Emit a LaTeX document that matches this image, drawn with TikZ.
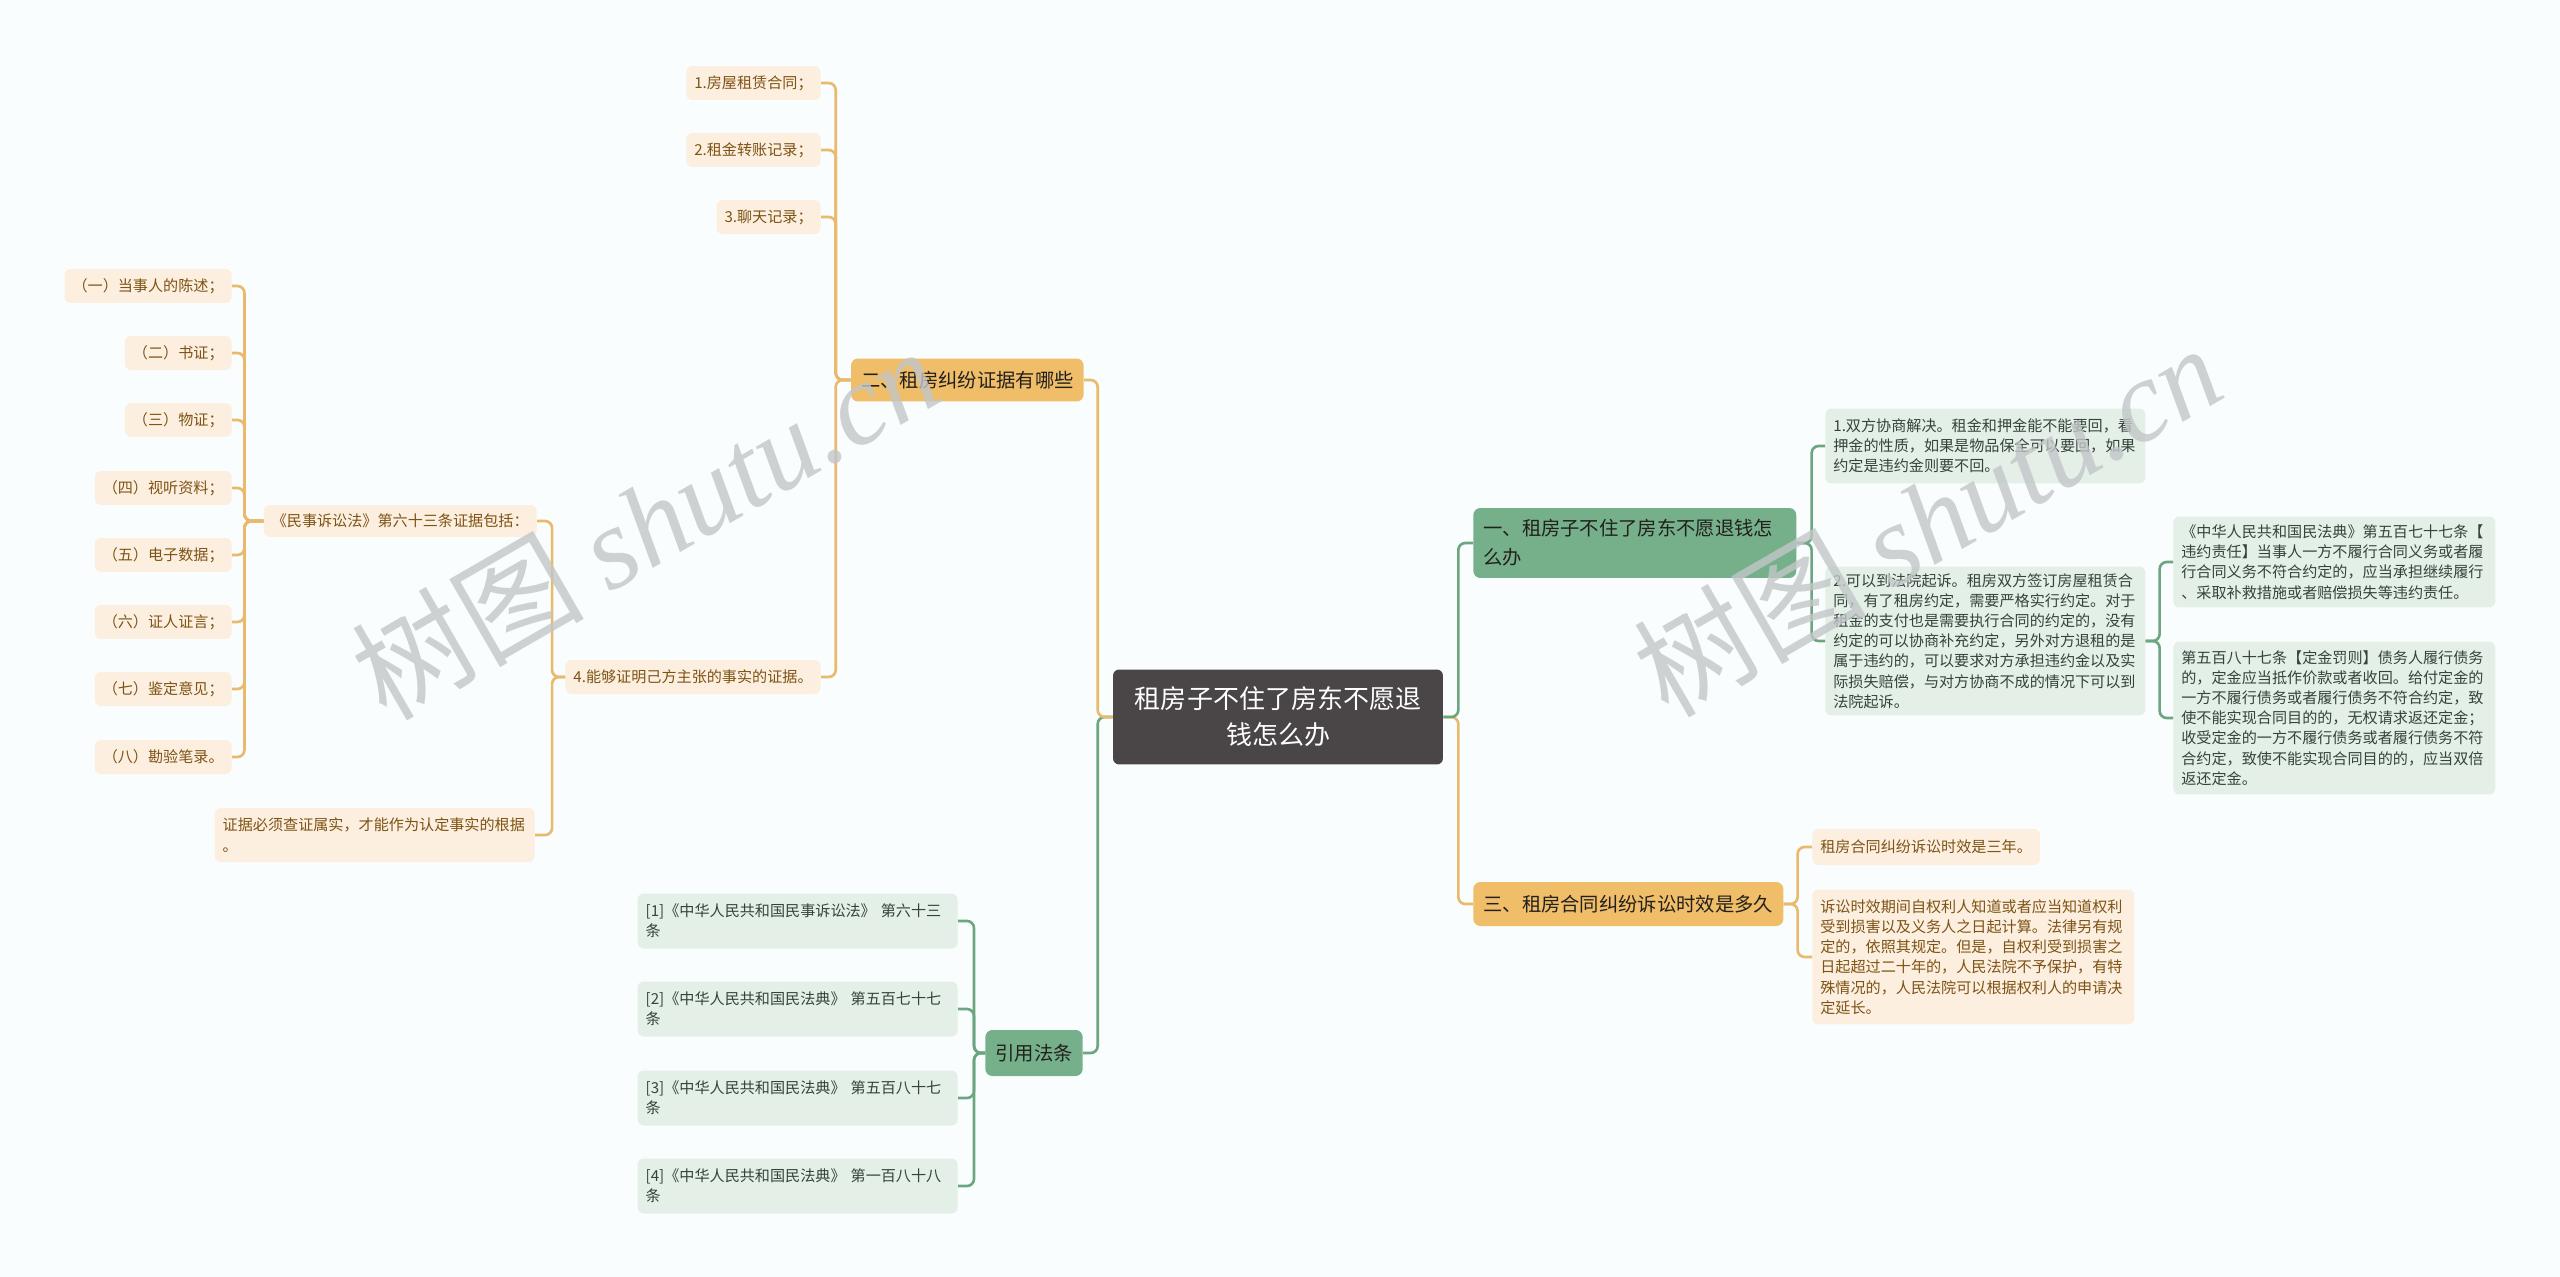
\documentclass[tikz,border=0pt]{standalone}
\usepackage{fontspec}
\setmainfont{Noto Sans CJK SC}
\newfontfamily\wmfont{Liberation Serif}
\definecolor{rootfill}{HTML}{4A4546}
\definecolor{gbranch}{HTML}{75B08A}
\definecolor{gleaf}{HTML}{E4EFE7}
\definecolor{obranch}{HTML}{F0BD68}
\definecolor{oleaf}{HTML}{FCEFDF}
\definecolor{glinecol}{HTML}{6CA680}
\definecolor{olinecol}{HTML}{E9BA6C}
\definecolor{otext}{HTML}{7E5315}
\definecolor{gtext}{HTML}{34443A}
\definecolor{btext}{HTML}{22201C}
\definecolor{wmgray}{HTML}{C2C6C8}
\definecolor{bgcol}{HTML}{F9FDFD}
\usepackage{tikz}

\begin{document}
\begin{tikzpicture}[
        x=0.02cm, y=-0.02cm,
        rootbox/.style={rectangle, rounded corners=3.5pt, fill=rootfill, text=white,
                    minimum width=6.6cm, minimum height=1.9cm, align=center,
                    font=\fontsize{14.8}{20.5}\selectfont},
        gbox/.style={rectangle, rounded corners=4pt, fill=gbranch, text=btext,
                    inner xsep=0.2cm, inner ysep=3pt, align=left,
                    font=\fontsize{11}{16.5}\selectfont},
        obox/.style={gbox, fill=obranch},
        gleafbox/.style={rectangle, rounded corners=3.5pt, fill=gleaf, text=gtext,
                    inner xsep=0.16cm, inner ysep=3pt, minimum height=0.68cm, align=left,
                    font=\fontsize{8.6}{11.5}\selectfont},
        oleafbox/.style={gleafbox, fill=oleaf, text=otext},
        glink/.style={draw=glinecol, line width=1.5pt, rounded corners=4pt},
        olink/.style={glink, draw=olinecol},
        wmark/.style={text=wmgray, opacity=0.8, font=\fontsize{66}{70}\selectfont}
      ]
        \useasboundingbox[fill=bgcol] (0,0) rectangle (2560,1277);

        \node[rootbox] (root) at (1278,717) {租房子不住了房东不愿退\\钱怎么办};

        % right side
        \node[gbox, anchor=west, text width=6.06cm, minimum height=1.4cm] (sec1) at (1473,543) {一、租房子不住了房东不愿退钱怎\\么办};
        \node[gleafbox, anchor=west, text width=6.08cm, minimum height=1.5cm] (way1) at (1825,446) {1.双方协商解决。租金和押金能不能要回，看\\押金的性质，如果是物品保全可以要回，如果\\约定是违约金则要不回。};
        \node[gleafbox, anchor=west, text width=6.08cm, minimum height=2.98cm] (way2) at (1825,641) {2.可以到法院起诉。租房双方签订房屋租赁合\\同，有了租房约定，需要严格实行约定。对于\\租金的支付也是需要执行合同的约定的，没有\\约定的可以协商补充约定，另外对方退租的是\\属于违约的，可以要求对方承担违约金以及实\\际损失赔偿，与对方协商不成的情况下可以到\\法院起诉。};
        \node[gleafbox, anchor=west, text width=6.12cm, minimum height=1.82cm] (law577) at (2173,562) {《中华人民共和国民法典》第五百七十七条【\\违约责任】当事人一方不履行合同义务或者履\\行合同义务不符合约定的，应当承担继续履行\\、采取补救措施或者赔偿损失等违约责任。};
        \node[gleafbox, anchor=west, text width=6.12cm, minimum height=3.06cm] (law587) at (2173,718) {第五百八十七条【定金罚则】债务人履行债务\\的，定金应当抵作价款或者收回。给付定金的\\一方不履行债务或者履行债务不符合约定，致\\使不能实现合同目的的，无权请求返还定金；\\收受定金的一方不履行债务或者履行债务不符\\合约定，致使不能实现合同目的的，应当双倍\\返还定金。};
        \node[obox, anchor=west, minimum height=0.88cm] (sec3) at (1473,904) {三、租房合同纠纷诉讼时效是多久};
        \node[oleafbox, anchor=west, minimum height=0.72cm] (term1) at (1812,847) {租房合同纠纷诉讼时效是三年。};
        \node[oleafbox, anchor=west, text width=6.12cm, minimum height=2.7cm] (term2) at (1812,957) {诉讼时效期间自权利人知道或者应当知道权利\\受到损害以及义务人之日起计算。法律另有规\\定的，依照其规定。但是，自权利受到损害之\\日起超过二十年的，人民法院不予保护，有特\\殊情况的，人民法院可以根据权利人的申请决\\定延长。};

        % left side
        \node[obox, anchor=east, minimum height=0.86cm] (sec2) at (1084,380) {二、租房纠纷证据有哪些};
        \node[oleafbox, anchor=east] (ev1) at (821,83) {1.房屋租赁合同；};
        \node[oleafbox, anchor=east] (ev2) at (821,150) {2.租金转账记录；};
        \node[oleafbox, anchor=east] (ev3) at (821,217) {3.聊天记录；};
        \node[oleafbox, anchor=east] (ev4) at (821,677) {4.能够证明己方主张的事实的证据。};
        \node[oleafbox, anchor=east, minimum height=0.64cm] (civ) at (537,521) {《民事诉讼法》第六十三条证据包括：};
        \node[oleafbox, anchor=east, text width=6.08cm, minimum height=1.08cm] (check) at (535,835) {证据必须查证属实，才能作为认定事实的根据\\。};
        \node[oleafbox, anchor=east] (kind1) at (232,286) {（一）当事人的陈述；};
        \node[oleafbox, anchor=east] (kind2) at (232,353) {（二）书证；};
        \node[oleafbox, anchor=east] (kind3) at (232,420) {（三）物证；};
        \node[oleafbox, anchor=east] (kind4) at (232,488) {（四）视听资料；};
        \node[oleafbox, anchor=east] (kind5) at (232,555) {（五）电子数据；};
        \node[oleafbox, anchor=east] (kind6) at (232,622) {（六）证人证言；};
        \node[oleafbox, anchor=east] (kind7) at (232,689) {（七）鉴定意见；};
        \node[oleafbox, anchor=east] (kind8) at (232,757) {（八）勘验笔录。};
        \node[gbox, anchor=east, minimum height=0.92cm] (sec4) at (1083,1053) {引用法条};
        \node[gleafbox, anchor=east, text width=6.08cm, minimum height=1.1cm] (ref1) at (958,921) {[1]《中华人民共和国民事诉讼法》 第六十三\\条};
        \node[gleafbox, anchor=east, text width=6.08cm, minimum height=1.1cm] (ref2) at (958,1009) {[2]《中华人民共和国民法典》 第五百七十七\\条};
        \node[gleafbox, anchor=east, text width=6.08cm, minimum height=1.1cm] (ref3) at (958,1098) {[3]《中华人民共和国民法典》 第五百八十七\\条};
        \node[gleafbox, anchor=east, text width=6.08cm, minimum height=1.1cm] (ref4) at (958,1186) {[4]《中华人民共和国民法典》 第一百八十八\\条};

        % links
        \draw[olink] (root.east) -- ++(15,0) |- (sec3.west);
        \draw[glink] (root.east) -- ++(15,0) |- (sec1.west);
        \draw[glink] (root.west) -- ++(-15,0) |- (sec4.east);
        \draw[olink] (root.west) -- ++(-15,0) |- (sec2.east);
        \draw[glink] (sec1.east) -- ++(15,0) |- (way1.west);
        \draw[glink] (sec1.east) -- ++(15,0) |- (way2.west);
        \draw[glink] (way2.east) -- ++(14,0) |- (law577.west);
        \draw[glink] (way2.east) -- ++(14,0) |- (law587.west);
        \draw[olink] (sec3.east) -- ++(14,0) |- (term1.west);
        \draw[olink] (sec3.east) -- ++(14,0) |- (term2.west);
        \draw[olink] (sec2.west) -- ++(-15,0) |- (ev1.east);
        \draw[olink] (sec2.west) -- ++(-15,0) |- (ev2.east);
        \draw[olink] (sec2.west) -- ++(-15,0) |- (ev3.east);
        \draw[olink] (sec2.west) -- ++(-15,0) |- (ev4.east);
        \draw[olink] (ev4.west) -- ++(-13,0) |- (civ.east);
        \draw[olink] (ev4.west) -- ++(-13,0) |- (check.east);
        \draw[olink] (civ.west) -- ++(-19,0) |- (kind1.east);
        \draw[olink] (civ.west) -- ++(-19,0) |- (kind2.east);
        \draw[olink] (civ.west) -- ++(-19,0) |- (kind3.east);
        \draw[olink] (civ.west) -- ++(-19,0) |- (kind4.east);
        \draw[olink] (civ.west) -- ++(-19,0) |- (kind5.east);
        \draw[olink] (civ.west) -- ++(-19,0) |- (kind6.east);
        \draw[olink] (civ.west) -- ++(-19,0) |- (kind7.east);
        \draw[olink] (civ.west) -- ++(-19,0) |- (kind8.east);
        \draw[glink] (sec4.west) -- ++(-11,0) |- (ref1.east);
        \draw[glink] (sec4.west) -- ++(-11,0) |- (ref2.east);
        \draw[glink] (sec4.west) -- ++(-11,0) |- (ref3.east);
        \draw[glink] (sec4.west) -- ++(-11,0) |- (ref4.east);

        % watermarks
        \node[wmark, rotate=30] (wm1) at (645,522) {树图 {\wmfont\itshape shutu.cn}};
        \node[wmark, rotate=30] (wm2) at (1927,519) {树图 {\wmfont\itshape shutu.cn}};
      \end{tikzpicture}
\end{document}
